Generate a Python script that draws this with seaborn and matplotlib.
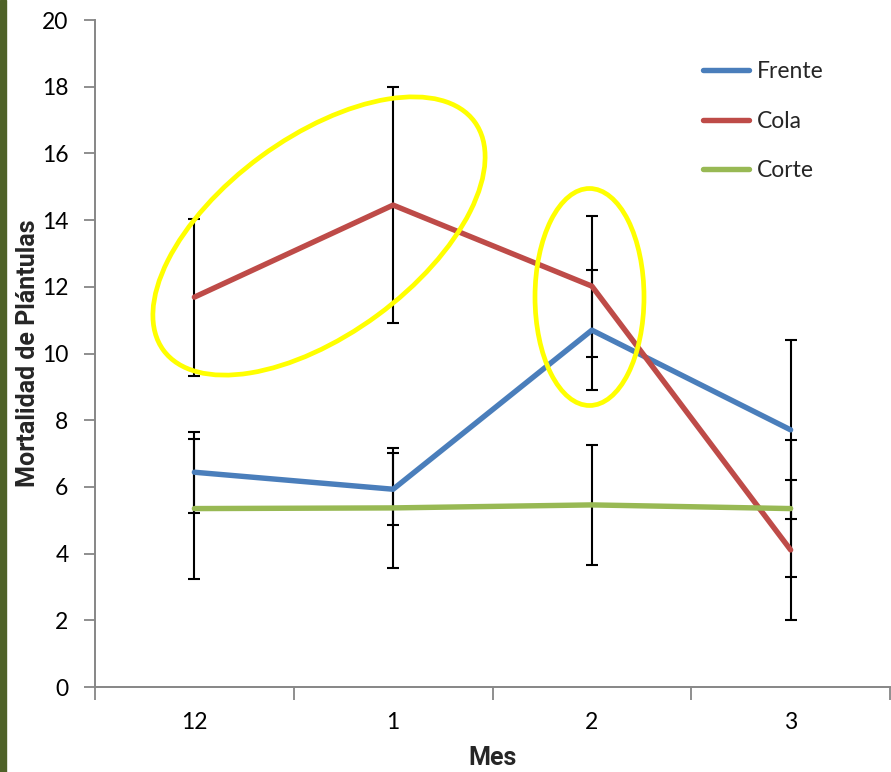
import matplotlib
matplotlib.use("Agg")
import matplotlib.pyplot as plt
import seaborn as sns
import pandas as pd
import numpy as np
from matplotlib.patches import Ellipse, Rectangle
from matplotlib.lines import Line2D
from matplotlib.transforms import IdentityTransform

# ---- data ----
meses = ["12", "1", "2", "3"]
series = ["Frente", "Cola", "Corte"]
frente = [6.44, 5.93, 10.70, 7.71]
frente_err = [1.21, 1.08, 1.80, 2.68]
cola = [11.69, 14.45, 12.02, 4.11]
cola_err = [2.35, 3.55, 2.11, 2.10]
corte = [5.35, 5.37, 5.46, 5.35]
corte_err = [2.10, 1.80, 1.79, 2.05]
colores = ["#4A7EBB", "#BE4B48", "#98B954"]

valores = {"Frente": (frente, frente_err), "Cola": (cola, cola_err), "Corte": (corte, corte_err)}

rows = []
for s in series:
    v, e = valores[s]
    for i, m in enumerate(meses):
        rows.append({"pos": i, "mes": m, "serie": s, "valor": v[i], "err": e[i]})
df = pd.DataFrame(rows)

sns.set_style("white")
plt.rcParams["font.family"] = ["Lato", "DejaVu Sans"]
BOLD = ["Roboto", "DejaVu Sans"]

W, H = 891, 772
fig = plt.figure(figsize=(W / 100, H / 100), dpi=100)
ax = fig.add_axes([95 / W, 85 / H, 795 / W, 667 / H])

# error bars (beneath lines)
for s, c in zip(series, colores):
    d = df[df.serie == s]
    ax.errorbar(d["pos"], d["valor"], yerr=d["err"], fmt="none", ecolor="black",
                elinewidth=1.5, capsize=4.3, capthick=1.5, zorder=2)

sns.lineplot(data=df, x="pos", y="valor", hue="serie", hue_order=series,
             palette=colores, linewidth=3.9, legend=False, sort=False, ax=ax,
             zorder=3, solid_capstyle="round")

ax.set_xlim(-0.5, 3.5)
ax.set_ylim(0, 20)
ax.set_yticks(np.arange(0, 21, 2))
ax.set_xticks(range(len(meses)))
ax.set_xticklabels(meses)
ax.set_xticks(np.arange(-0.5, 3.6, 1), minor=True)
ax.tick_params(which="both", bottom=True, left=True)
ax.tick_params(axis="x", which="major", length=0, pad=18, labelsize=16.5, colors="black")
ax.tick_params(axis="x", which="minor", length=9, width=1.3, color="#868686", direction="out")
ax.tick_params(axis="y", which="major", length=8, width=1.3, color="#868686",
               direction="out", pad=11, labelsize=16.5, labelcolor="black")
for sp in ["top", "right"]:
    ax.spines[sp].set_visible(False)
for sp in ["left", "bottom"]:
    ax.spines[sp].set_color("#868686")
    ax.spines[sp].set_linewidth(1.4)

ax.set_xlabel("Mes", fontsize=18, fontweight="bold", family=BOLD)
ax.set_ylabel("Mortalidad de Plántulas", fontsize=18, fontweight="bold", family=BOLD)
ax.xaxis.set_label_coords(0.5, -(758 - 687) / 667)
ax.xaxis.label.set_verticalalignment("center")
ax.yaxis.set_label_coords(-(95 - 28) / 795, 0.5)
ax.yaxis.label.set_verticalalignment("center")

# legend
handles = [Line2D([0], [0], color=c, lw=3.9, solid_capstyle="round") for c in colores]
leg = ax.legend(handles, series, loc="upper left", bbox_to_anchor=(702.5 / W, (H - 61) / H),
                bbox_transform=fig.transFigure, frameon=False, fontsize=16.5,
                handlelength=2.05, handletextpad=0.33, labelspacing=1.25,
                borderpad=0, borderaxespad=0)

# yellow highlight ellipses (annotation, in pixel coordinates)
e1 = Ellipse((319, H - 236), 386, 197, angle=36.3, fill=False, edgecolor="#FFFF00",
             linewidth=3.4, transform=IdentityTransform(), zorder=5)
e2 = Ellipse((589.5, H - 297), 109, 217, angle=0, fill=False, edgecolor="#FFFF00",
             linewidth=3.4, transform=IdentityTransform(), zorder=5)
ax.add_artist(e1)
ax.add_artist(e2)
e1.set_clip_on(False)
e2.set_clip_on(False)

# dark green strip at the left edge
fig.patches.append(Rectangle((0, 0), 6 / W, 1, transform=fig.transFigure,
                             color="#4F6228", zorder=0))

fig.savefig("out.png", dpi=100)
